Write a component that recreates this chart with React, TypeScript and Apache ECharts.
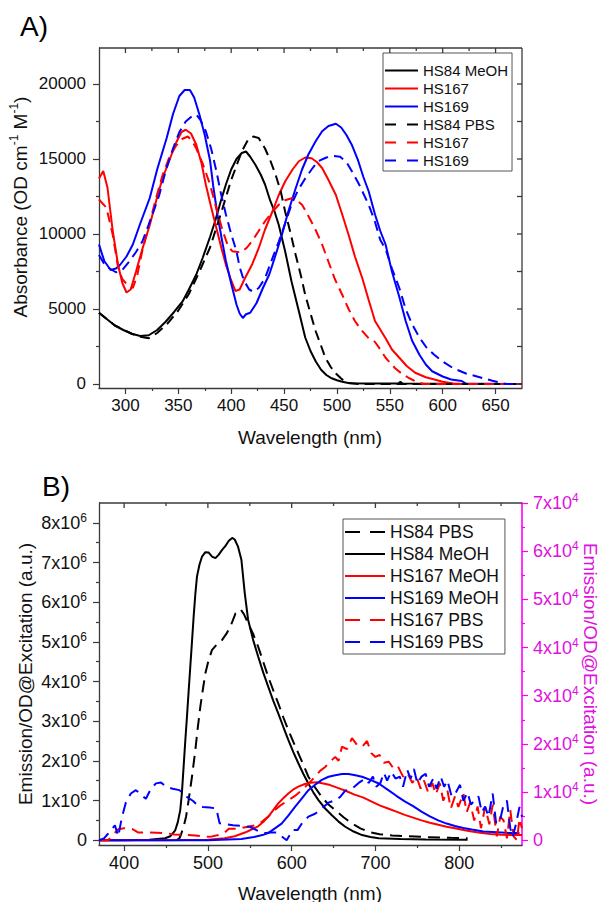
import React, { useEffect, useRef } from 'react';
import * as echarts from 'echarts';

const FONT = '"Liberation Sans", Arimo, Arial, sans-serif';
const AXIS = '#3a3a3a';
const MAGENTA = '#ff00ff';

// ---------- Panel A : absorbance ----------
const topXTicks = [300, 350, 400, 450, 500, 550, 600, 650];
const topXMinor = [325, 375, 425, 475, 525, 575, 625];
const topYTicks = [0, 5000, 10000, 15000, 20000];
const topYMinor = [2500, 7500, 12500, 17500];
const topXRange = [275, 675];
const topYRange = [-267, 22400];

const absHs84MeohX = [275,282,290,298,306,314,322,330,338,346,354,360,367,373,380,385,390,395,400,405,410,414,418,423,428,432,437,441,445,451,457,464,470,475,480,485,490,495,500,505,512,530,558,560,562,600,675];
const absHs84MeohY = [4750,4350,3900,3600,3350,3200,3250,3600,4150,4800,5500,6300,7300,8400,9800,10900,12150,13300,14300,15000,15400,15500,15150,14600,13950,13300,12200,11500,10600,8850,6850,4850,3100,2200,1500,950,600,380,250,150,50,30,30,150,30,10,0];

const absHs84PbsX = [275,290,306,314,322,330,340,350,360,370,380,390,400,410,416,421,426,432,437,442,447,451,456,461,466,470,475,480,485,489,494,499,505,512,520,675];
const absHs84PbsY = [4750,3900,3350,3150,3050,3400,4050,4900,6000,7500,9100,11300,13600,15500,16300,16500,16400,15700,14900,13950,12800,11500,10100,8600,7200,5950,4700,3500,2550,1750,1150,700,300,60,0,0];

const absHs167MeohX = [275,279,283,288,293,297,301,305,310,316,323,329,335,342,348,353,357,362,367,372,376,381,386,391,395,400,404,408,413,420,426,432,439,445,451,458,464,470,476,481,486,492,499,505,511,517,524,530,536,546,552,559,566,574,584,593,600,610,620,675];
const absHs167MeohY = [13700,14200,13100,10200,7950,6750,6100,6300,7500,9000,10600,12200,13700,15000,16100,16800,16950,16700,15950,14700,13300,11800,10400,9000,7950,6900,6200,6300,7050,8000,9050,10300,11500,12600,13500,14300,14850,15100,15050,14800,14400,13600,12600,11300,9950,8500,7050,5600,4200,3050,2300,1750,1200,750,450,280,150,40,0,0];

const absHs169MeohX = [275,280,286,291,295,301,307,314,323,330,339,345,351,356,361,365,370,375,380,383,387,391,395,400,405,408,411,414,418,424,430,436,442,448,454,461,467,473,480,486,492,499,504,509,514,520,525,530,536,541,546,552,559,565,571,578,584,590,600,608,618,622,675];
const absHs169MeohY = [9300,8200,7600,7700,7950,8500,9300,10700,12400,14300,16400,18000,19200,19600,19600,19100,17950,16600,14900,13200,11300,9700,8200,6700,5300,4700,4400,4650,4750,5400,6400,7300,8600,9950,11500,13050,14300,15300,16200,16850,17200,17350,17100,16600,15950,14900,13800,12850,11300,10200,9300,7500,5800,4200,2900,1950,1300,850,500,300,200,30,0];

const absHs167PbsX = [275,282,288,293,297,302,307,311,316,322,329,335,342,348,354,359,363,367,373,380,386,392,397,401,406,410,415,420,426,432,438,445,451,458,462,467,473,479,486,492,498,505,511,517,523,530,536,541,546,555,562,568,575,582,675];
const absHs167PbsY = [12300,11750,9950,7800,7000,6600,6400,7200,8900,10500,12400,13900,15200,15900,16350,16500,16200,15700,14700,13300,11700,10200,9200,8850,8800,8800,9100,9550,10200,10850,11400,11950,12250,12400,12250,11950,11200,10400,9300,8150,7000,5950,5000,4200,3600,3050,2800,2300,1750,1050,650,400,150,0,0];

const absHs169PbsX = [275,280,285,291,297,304,310,316,324,332,338,345,351,357,362,367,371,376,381,386,390,395,400,405,408,412,417,421,426,432,438,445,451,457,463,470,476,482,490,497,503,509,514,521,525,530,536,541,546,552,559,565,571,578,585,592,600,610,622,635,647,655,660,675];
const absHs169PbsY = [8600,8000,7700,7450,7600,8200,8800,9500,11000,12600,14200,15700,16800,17500,17800,17950,17600,16850,15700,14200,12800,11300,10000,8850,7800,6900,6300,6150,6400,7050,8200,9500,10700,11950,12900,13700,14300,14850,15100,15200,15150,14800,14200,13300,12700,11950,10800,9600,9000,7700,6400,5000,4000,3100,2400,1950,1500,1050,700,450,220,80,0,0];

// ---------- Panel B : emission (left axis in 10^6, right axis in 10^4) ----------
const botXTicks = [400, 500, 600, 700, 800];
const botXMinor = [450, 550, 650, 750, 850];
const botLeftTicks = [0, 1, 2, 3, 4, 5, 6, 7, 8];
const botRightTicks = [0, 1, 2, 3, 4, 5, 6, 7];
const botXRange = [370, 875];
const botYRange = [-0.12, 8.5];

const emHs84PbsX = [462,466,468,471,474,477,481,485,488,491,494,497,501,505,510,517,522,527,533,539,543,548,554,560,566,572,578,584,590,596,602,608,614,620,628,636,644,652,662,672,682,692,705,720,740,760,790,810];
const emHs84PbsY = [0,0.05,0.15,0.34,0.6,1.01,1.6,2.27,2.85,3.37,3.8,4.21,4.55,4.8,4.92,5.05,5.2,5.39,5.72,5.82,5.7,5.47,5.2,4.88,4.5,4.12,3.78,3.45,3.1,2.78,2.48,2.19,1.9,1.6,1.33,1.09,0.9,0.76,0.58,0.42,0.3,0.21,0.15,0.12,0.1,0.08,0.06,0.05];

const emHs84MeohX = [370,400,430,449,455,461,464,467,469,471,473,475,477,479,481,483,485,487,490,493,497,501,505,509,513,517,521,525,529,532,536,540,544,548,554,560,566,572,578,584,590,596,602,608,614,620,626,632,640,648,656,664,674,684,694,704,730,760,810];
const emHs84MeohY = [0,0,0.01,0.05,0.1,0.25,0.45,0.76,1.2,1.85,2.5,3.11,3.75,4.38,5.0,5.64,6.2,6.65,6.95,7.15,7.26,7.25,7.15,7.11,7.2,7.32,7.42,7.55,7.62,7.58,7.4,7.07,6.23,5.56,5.05,4.63,4.23,3.87,3.52,3.2,2.86,2.53,2.22,1.94,1.67,1.43,1.2,1.01,0.8,0.63,0.47,0.34,0.22,0.13,0.08,0.05,0.03,0.02,0.01];

const emHs167MeohX = [370,450,500,520,532,545,552,560,566,572,578,584,590,596,602,608,615,622,630,638,646,655,665,675,685,695,705,715,725,735,745,755,765,775,785,795,805,815,825,837,850,862,875];
const emHs167MeohY = [0,0,0.01,0.05,0.1,0.2,0.27,0.35,0.46,0.59,0.76,0.93,1.06,1.18,1.28,1.35,1.41,1.45,1.46,1.43,1.39,1.32,1.24,1.15,1.08,0.98,0.88,0.8,0.72,0.64,0.57,0.5,0.44,0.39,0.34,0.3,0.26,0.22,0.19,0.16,0.14,0.13,0.13];

const emHs169MeohX = [370,500,540,555,565,572,580,588,596,604,612,620,628,636,644,652,660,668,676,684,694,704,715,725,735,745,755,765,775,785,795,805,815,829,845,860,872];
const emHs169MeohY = [0,0,0.03,0.08,0.13,0.18,0.3,0.42,0.62,0.84,1.05,1.26,1.4,1.52,1.6,1.64,1.67,1.67,1.64,1.6,1.52,1.43,1.27,1.12,0.98,0.86,0.72,0.6,0.5,0.42,0.36,0.31,0.27,0.22,0.2,0.18,0.18];

const emHs167PbsX = [370,381,387,393,400,410,417,430,449,460,473,485,497,505,513,520,525,536,548,556,564,572,580,588,596,604,612,620,628,634,640,646,652,656,660,666,672,678,684,690,695,700,705,710,716,722,727,733,738,744,749,754,758,763,768,772,777,781,786,790,795,799,805,809,813,818,822,826,831,836,840,845,849,853,857,861,865,869,872,875];
const emHs167PbsY = [0,0,0.12,0.23,0.25,0.23,0.16,0.16,0.15,0.12,0.11,0.1,0.07,0.08,0.11,0.16,0.24,0.24,0.28,0.31,0.38,0.49,0.63,0.74,0.83,0.92,1.04,1.17,1.32,1.44,1.52,1.63,1.73,1.65,1.94,1.89,2.12,1.98,1.94,2.06,1.81,1.73,1.77,1.61,1.63,1.48,1.53,1.32,1.4,1.19,1.32,1.07,1.24,0.99,1.19,0.95,1.18,0.82,1.03,0.66,0.91,0.69,0.97,0.58,0.78,0.41,0.7,0.25,0.69,0.33,0.74,0.08,0.49,0.41,0.04,0.63,0.08,0,0.45,0.25];

const emHs169PbsX = [370,376,381,389,393,397,402,408,414,420,426,432,438,444,450,458,466,474,482,488,494,502,510,514,522,530,540,550,558,566,574,582,588,594,601,607,613,620,628,636,644,652,658,664,672,680,688,692,697,701,706,710,714,719,724,729,733,738,742,746,750,755,760,764,769,773,778,782,786,791,796,801,805,810,814,818,823,827,831,835,840,844,848,853,857,861,864,868,872,875];
const emHs169PbsY = [0,0.04,0.14,0.31,0.08,0.45,0.78,0.97,1.04,0.95,0.86,1.07,1.18,1.2,1.11,1.07,1.04,0.91,0.82,0.72,0.69,0.68,0.66,0.35,0.33,0.31,0.3,0.28,0.21,0.14,0.16,0.16,0.08,0,0.21,0.21,0.37,0.49,0.55,0.66,0.78,0.83,0.9,1.03,1.07,1.19,1.28,1.19,1.32,1.11,1.19,1.4,1.24,1.42,1.28,1.32,1.11,1.46,1.28,1.48,1.18,1.32,1.38,1.11,1.28,1.07,1.32,1.11,1.24,0.91,0.99,1.15,0.82,0.99,0.74,0.82,0.91,0.58,0.7,0.49,0.97,0.37,0.35,0.74,0.82,0.25,0.07,0.35,0.69,0.49];

const zip = (x: number[], y: number[]) => x.map((v, i) => [v, y[i]]);

const DASH_A = [10, 6];
const DASH_B = [12, 7];
const ICON_A_SOLID = 'path://M0,0h33v2h-33z';
const ICON_A_DASH = 'path://M0,0h11v2h-11z M22,0h11v2h-11z';
const ICON_B_SOLID = 'path://M0,0h40v2h-40z';
const ICON_B_DASH = 'path://M0,0h15v2h-15z M25,0h15v2h-15z';

const line = (name: string, x: number[], y: number[], color: string, dash: any, xi: number, yi: number) => ({
  type: 'line',
  name,
  data: zip(x, y),
  xAxisIndex: xi,
  yAxisIndex: yi,
  showSymbol: false,
  symbol: 'none',
  lineStyle: { color, width: 2, type: dash || 'solid' },
  itemStyle: { color },
});

// Frame (top edge + inward ticks, optional right edge + inward ticks), placed through the axes' own scales
const frameSeries = (
  xi: number, yi: number, xr: number[], yr: number[],
  xMaj: number[], xMin: number[], yMaj: number[], yMin: number[], withRight: boolean,
) => ({
  type: 'custom',
  xAxisIndex: xi,
  yAxisIndex: yi,
  data: [[xr[0], yr[0], xr[1], yr[1]]],
  silent: true,
  z: 6,
  clip: false,
  renderItem: (_params: any, api: any) => {
    const p0 = api.coord([xr[0], yr[0]]);
    const p1 = api.coord([xr[1], yr[1]]);
    const left = p0[0], bottom = p0[1], right = p1[0], top = p1[1];
    const st = { stroke: AXIS, lineWidth: 1.3 };
    const children: any[] = [
      { type: 'line', shape: { x1: left, y1: top, x2: right, y2: top }, style: st },
    ];
    xMaj.forEach((v) => {
      const px = api.coord([v, yr[1]])[0];
      children.push({ type: 'line', shape: { x1: px, y1: top, x2: px, y2: top + 5 }, style: st });
    });
    xMin.forEach((v) => {
      const px = api.coord([v, yr[1]])[0];
      children.push({ type: 'line', shape: { x1: px, y1: top, x2: px, y2: top + 3 }, style: st });
    });
    if (withRight) {
      children.push({ type: 'line', shape: { x1: right, y1: top, x2: right, y2: bottom }, style: st });
      yMaj.concat(yMin).forEach((v) => {
        const py = api.coord([xr[1], v])[1];
        children.push({ type: 'line', shape: { x1: right, y1: py, x2: right - 5, y2: py }, style: st });
      });
    }
    return { type: 'group', children };
  },
});

const supRich = (size: number, color: string) => ({
  a: { fontSize: size, fontFamily: FONT, color, lineHeight: 22 },
  s: { fontSize: 12, fontFamily: FONT, color, lineHeight: 12, verticalAlign: 'top' },
});

const mainX = (grid: number, range: number[], split: number, ticks: number[], fontSize: number) => ({
  type: 'value', gridIndex: grid, position: 'bottom', min: range[0], max: range[1], splitNumber: split,
  axisLine: { show: true, onZero: false, lineStyle: { color: AXIS, width: 1.3 } },
  axisTick: { show: true, length: 6, customValues: ticks, lineStyle: { color: AXIS, width: 1.2 } },
  minorTick: { show: true, splitNumber: 2, length: 3, lineStyle: { color: AXIS, width: 1.2 } },
  axisLabel: { customValues: ticks, margin: 9, fontSize, fontFamily: FONT, color: '#111', formatter: (v: number) => String(v) },
  splitLine: { show: false },
});

const option: any = {
  animation: false,
  grid: [
    { left: 99, top: 48, width: 423, height: 340 },
    { left: 99, top: 503, width: 423, height: 342 },
  ],
  xAxis: [
    mainX(0, topXRange, 8, topXTicks, 17),
    mainX(1, botXRange, 5, botXTicks, 18),
  ],
  yAxis: [
    {
      type: 'value', gridIndex: 0, position: 'left', min: topYRange[0], max: topYRange[1], splitNumber: 5,
      axisLine: { show: true, onZero: false, lineStyle: { color: AXIS, width: 1.3 } },
      axisTick: { show: true, length: 6, customValues: topYTicks, lineStyle: { color: AXIS, width: 1.2 } },
      minorTick: { show: true, splitNumber: 2, length: 3, lineStyle: { color: AXIS, width: 1.2 } },
      axisLabel: { customValues: topYTicks, margin: 13, fontSize: 17, fontFamily: FONT, color: '#111', formatter: (v: number) => String(v) },
      splitLine: { show: false },
    },
    {
      type: 'value', gridIndex: 1, position: 'left', min: botYRange[0], max: botYRange[1], splitNumber: 9,
      axisLine: { show: true, onZero: false, lineStyle: { color: AXIS, width: 1.3 } },
      axisTick: { show: true, length: 6, customValues: botLeftTicks, lineStyle: { color: AXIS, width: 1.2 } },
      minorTick: { show: true, splitNumber: 2, length: 3, lineStyle: { color: AXIS, width: 1.2 } },
      axisLabel: {
        customValues: botLeftTicks, margin: 12, fontSize: 18, fontFamily: FONT, color: '#111',
        formatter: (v: number) => (v === 0 ? '{a|0}' : `{a|${v}x10}{s|6}`),
        rich: supRich(18, '#111'),
      },
      splitLine: { show: false },
    },
    {
      type: 'value', gridIndex: 1, position: 'right', min: -0.0988, max: 7, splitNumber: 7,
      axisLine: { show: true, onZero: false, lineStyle: { color: MAGENTA, width: 1.6 } },
      axisTick: { show: true, length: 6, customValues: botRightTicks, lineStyle: { color: MAGENTA, width: 1.2 } },
      minorTick: { show: true, splitNumber: 2, length: 3, lineStyle: { color: MAGENTA, width: 1.2 } },
      axisLabel: {
        customValues: botRightTicks, margin: 11, fontSize: 18, fontFamily: FONT, color: '#e010e0',
        formatter: (v: number) => (v === 0 ? '{a|0}' : `{a|${v}x10}{s|4}`),
        rich: supRich(18, '#e010e0'),
      },
      splitLine: { show: false },
    },
  ],
  legend: [
    {
      orient: 'vertical', left: 383, top: 53, padding: [10, 4, 3, 2], itemGap: 3,
      itemWidth: 33, itemHeight: 2, borderColor: '#555', borderWidth: 1, selectedMode: false,
      textStyle: { fontSize: 15, fontFamily: FONT, color: '#111' },
      formatter: (n: string) => n.slice(3),
      data: [
        { name: 'A: HS84 MeOH', icon: ICON_A_SOLID },
        { name: 'A: HS167', icon: ICON_A_SOLID },
        { name: 'A: HS169', icon: ICON_A_SOLID },
        { name: 'A: HS84 PBS', icon: ICON_A_DASH },
        { name: 'A: HS167 ', icon: ICON_A_DASH },
        { name: 'A: HS169 ', icon: ICON_A_DASH },
      ],
    },
    {
      orient: 'vertical', left: 343, top: 519, padding: [4, 6, 3, 2], itemGap: 4,
      itemWidth: 40, itemHeight: 2, borderColor: '#555', borderWidth: 1, selectedMode: false,
      textStyle: { fontSize: 17.5, fontFamily: FONT, color: '#111' },
      formatter: (n: string) => n.slice(3),
      data: [
        { name: 'B: HS84 PBS', icon: ICON_B_DASH },
        { name: 'B: HS84 MeOH', icon: ICON_B_SOLID },
        { name: 'B: HS167 MeOH', icon: ICON_B_SOLID },
        { name: 'B: HS169 MeOH', icon: ICON_B_SOLID },
        { name: 'B: HS167 PBS', icon: ICON_B_DASH },
        { name: 'B: HS169 PBS', icon: ICON_B_DASH },
      ],
    },
  ],
  graphic: [
    { type: 'text', x: 20, y: 26, style: { text: 'A)', fontSize: 28, fontFamily: FONT, fill: '#000', align: 'left', verticalAlign: 'middle' } },
    { type: 'text', x: 42, y: 486, style: { text: 'B)', fontSize: 28, fontFamily: FONT, fill: '#000', align: 'left', verticalAlign: 'middle' } },
    {
      type: 'text', x: 20, y: 207, rotation: Math.PI / 2,
      style: {
        text: '{a|Absorbance (OD cm}{s|-1}{a| M}{s|-1}{a|)}', fill: '#111', align: 'center', verticalAlign: 'middle',
        rich: {
          a: { fontSize: 19, fontFamily: FONT, fill: '#111', lineHeight: 24 },
          s: { fontSize: 12, fontFamily: FONT, fill: '#111', lineHeight: 12, verticalAlign: 'top' },
        },
      },
    },
    { type: 'text', x: 310, y: 437, style: { text: 'Wavelength (nm)', fontSize: 19, fontFamily: FONT, fill: '#111', align: 'center', verticalAlign: 'middle' } },
    { type: 'text', x: 310, y: 893, style: { text: 'Wavelength (nm)', fontSize: 19, fontFamily: FONT, fill: '#111', align: 'center', verticalAlign: 'middle' } },
    { type: 'text', x: 25, y: 674, rotation: Math.PI / 2, style: { text: 'Emission/OD@Excitation (a.u.)', fontSize: 19, fontFamily: FONT, fill: '#111', align: 'center', verticalAlign: 'middle' } },
    { type: 'text', x: 590, y: 674, rotation: -Math.PI / 2, style: { text: 'Emission/OD@Excitation (a.u.)', fontSize: 19, fontFamily: FONT, fill: '#e010e0', align: 'center', verticalAlign: 'middle' } },
  ],
  series: [
    line('A: HS84 MeOH', absHs84MeohX, absHs84MeohY, '#000000', null, 0, 0),
    line('A: HS167', absHs167MeohX, absHs167MeohY, '#ff0000', null, 0, 0),
    line('A: HS169', absHs169MeohX, absHs169MeohY, '#0000ff', null, 0, 0),
    line('A: HS84 PBS', absHs84PbsX, absHs84PbsY, '#000000', DASH_A, 0, 0),
    line('A: HS167 ', absHs167PbsX, absHs167PbsY, '#ff0000', DASH_A, 0, 0),
    line('A: HS169 ', absHs169PbsX, absHs169PbsY, '#0000ff', DASH_A, 0, 0),
    line('B: HS84 PBS', emHs84PbsX, emHs84PbsY, '#000000', DASH_B, 1, 1),
    line('B: HS84 MeOH', emHs84MeohX, emHs84MeohY, '#000000', null, 1, 1),
    line('B: HS167 MeOH', emHs167MeohX, emHs167MeohY, '#ff0000', null, 1, 1),
    line('B: HS169 MeOH', emHs169MeohX, emHs169MeohY, '#0000ff', null, 1, 1),
    line('B: HS167 PBS', emHs167PbsX, emHs167PbsY, '#ff0000', DASH_B, 1, 2),
    line('B: HS169 PBS', emHs169PbsX, emHs169PbsY, '#0000ff', DASH_B, 1, 2),
    frameSeries(0, 0, topXRange, topYRange, topXTicks, topXMinor, topYTicks, topYMinor, true),
    frameSeries(1, 1, botXRange, botYRange, botXTicks, botXMinor, [], [], false),
  ],
};

export default function App() {
  const ref = useRef<HTMLDivElement>(null);
  useEffect(() => {
    if (!ref.current) return;
    const chart = echarts.init(ref.current, null, { renderer: 'svg' });
    chart.setOption(option);
    return () => chart.dispose();
  }, []);
  return <div ref={ref} style={{ position: 'absolute', left: 0, top: 0, width: 602, height: 902, background: '#fff' }} />;
}
